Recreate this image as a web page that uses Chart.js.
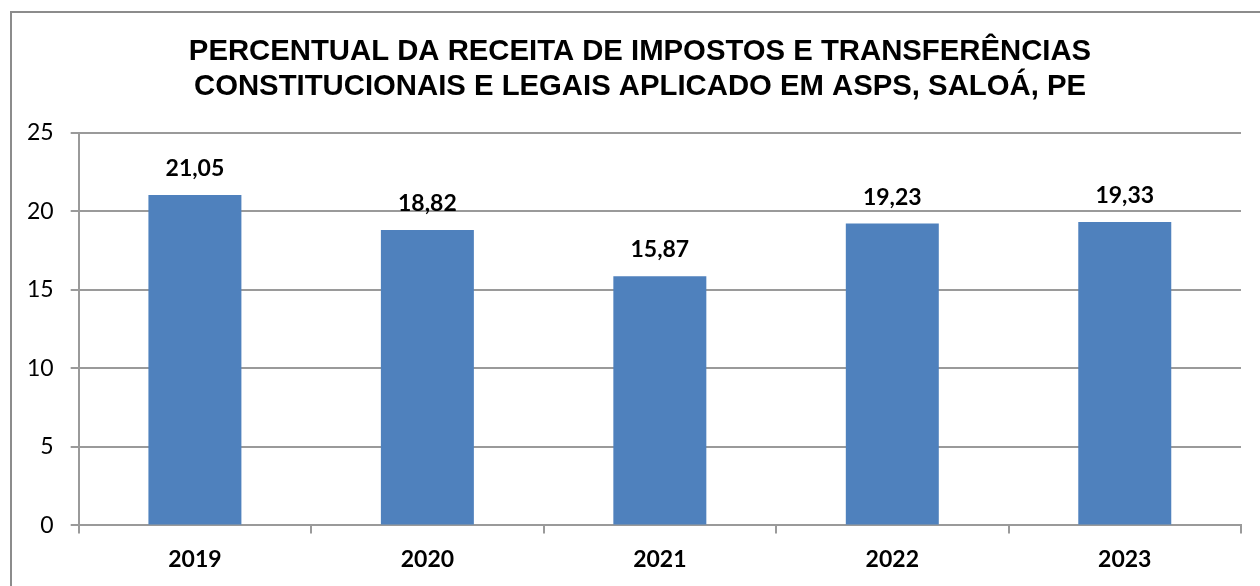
<!DOCTYPE html>
<html>
<head>
<meta charset="utf-8">
<script src="https://cdn.jsdelivr.net/npm/chart.js@4.4.1/dist/chart.umd.min.js"></script>
<style>
  html, body { margin: 0; padding: 0; background: #fff; }
  #wrap { width: 1260px; height: 586px; }
</style>
</head>
<body>
<div id="wrap"><canvas id="chart" width="1260" height="586"></canvas></div>
<script>
var years = ['2019', '2020', '2021', '2022', '2023'];
var percentuais = [21.05, 18.82, 15.87, 19.23, 19.33];
var yTicks = [0, 5, 10, 15, 20, 25];
var titleLines = ['PERCENTUAL DA RECEITA DE IMPOSTOS E TRANSFERÊNCIAS',
                  'CONSTITUCIONAIS E LEGAIS APLICADO EM ASPS, SALOÁ, PE'];

// Border around the whole chart (runs off the right/bottom edge) + title
var frame = {
  id: 'frame',
  beforeDraw: function(chart) {
    var c = chart.ctx;
    c.save();
    c.strokeStyle = '#8c8c8c';
    c.lineWidth = 2;
    c.strokeRect(11, 12, 1400, 800);

    // title is centred on the frame, not the plot
    c.font = 'bold 29.3px "Liberation Sans"';
    c.fillStyle = '#000';
    c.textAlign = 'center';
    c.textBaseline = 'alphabetic';
    titleLines.forEach(function(line, i) {
      c.fillText(line, 640, 60 + i * 35);
    });
    c.restore();
  }
};

// Value labels above bars, comma decimals
var valueLabels = {
  id: 'valueLabels',
  afterDatasetsDraw: function(chart) {
    var c = chart.ctx;
    var meta = chart.getDatasetMeta(0);
    c.save();
    c.font = 'bold 23px Lato';
    c.fillStyle = '#000';
    c.textAlign = 'center';
    c.textBaseline = 'alphabetic';
    meta.data.forEach(function(bar, i) {
      var txt = percentuais[i].toFixed(2).replace('.', ',');
      c.fillText(txt, bar.x, bar.y - 19);
    });
    c.restore();
  }
};

new Chart(document.getElementById('chart'), {
  type: 'bar',
  data: {
    labels: years,
    datasets: [{
      data: percentuais,
      backgroundColor: '#4F81BD',
      borderWidth: 0,
      categoryPercentage: 1,
      barPercentage: 0.4
    }]
  },
  options: {
    responsive: false,
    animation: false,
    layout: { padding: { left: 10, right: 19, top: 133, bottom: 1 } },
    plugins: {
      legend: { display: false },
      tooltip: { enabled: false },
      title: { display: false }
    },
    scales: {
      x: {
        offset: true,
        grid: {
          offset: true,
          drawOnChartArea: false,
          drawTicks: true,
          tickLength: 8,
          color: '#9a9a9a',
          lineWidth: 2
        },
        border: { display: true, color: '#9a9a9a', width: 2 },
        ticks: {
          color: '#000',
          padding: 12,
          font: { family: 'Lato', size: 23, weight: 'bold' }
        }
      },
      y: {
        min: 0,
        max: 25,
        afterBuildTicks: function(axis) {
          axis.ticks = yTicks.map(function(v) { return { value: v }; });
        },
        grid: {
          color: '#9a9a9a',
          lineWidth: 2,
          tickLength: 8
        },
        border: { display: true, color: '#9a9a9a', width: 2 },
        ticks: {
          color: '#000',
          padding: 17,
          font: { family: 'Lato', size: 23 }
        }
      }
    }
  },
  plugins: [frame, valueLabels]
});
</script>
</body>
</html>
